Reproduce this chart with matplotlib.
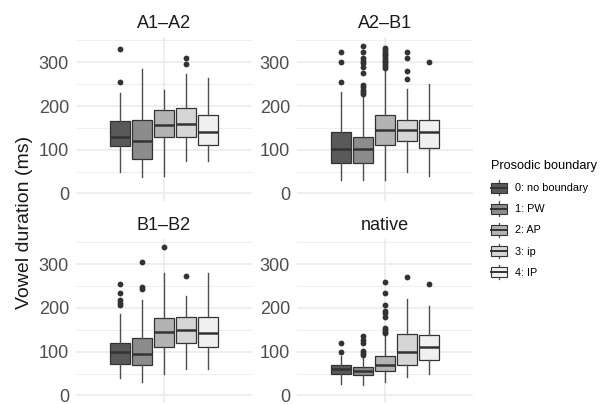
import matplotlib
matplotlib.use("Agg")
import matplotlib.pyplot as plt
from matplotlib.legend_handler import HandlerBase
from matplotlib.patches import Rectangle, Patch
from matplotlib.lines import Line2D

plt.rcParams['font.family'] = ['Liberation Sans', 'DejaVu Sans']

# data (ms)
facets = ["A1\u2013A2", "A2\u2013B1", "B1\u2013B2", "native"]
boundaries = ["0: no boundary", "1: PW", "2: AP", "3: ip", "4: IP"]

q1 = [[108, 78, 130, 129, 110],
      [70, 70, 110, 121, 105],
      [71, 69, 110, 120, 110],
      [50, 46, 56, 70, 80]]
median = [[130, 121, 157, 159, 140],
          [101, 101, 145, 145, 140],
          [100, 94, 146, 149, 142],
          [60, 55, 70, 100, 110]]
q3 = [[166, 168, 190, 195, 179],
      [140, 130, 179, 169, 169],
      [120, 132, 178, 180, 180],
      [69, 64, 91, 140, 137]]
whislo = [[50, 37, 40, 74, 74],
          [31, 31, 31, 50, 40],
          [40, 30, 50, 60, 60],
          [27, 24, 30, 43, 50]]
whishi = [[229, 284, 237, 274, 263],
          [232, 221, 282, 239, 250],
          [187, 219, 280, 228, 280],
          [91, 89, 135, 220, 205]]
fliers = [
    [[330, 256], [], [], [311, 297], []],
    [[324, 300, 256],
     [337, 324, 311, 304, 298, 289, 276, 248, 243, 237, 232, 227],
     [332, 328, 324, 320, 316, 312, 308, 304, 300, 296, 292, 288],
     [324, 311, 280, 261],
     [300]],
    [[255, 235, 219, 212, 206], [305, 249, 243], [340], [272], []],
    [[120, 99], [135, 127, 120, 101, 97, 93],
     [260, 234, 207, 194, 188, 179, 154, 150, 146, 142], [270], [255]],
]

fills = ["#595959", "#8c8c8c", "#b3b3b3", "#d6d6d6", "#f0f0f0"]
edge = "#333333"
whisk_col = "#4d4d4d"
W, H = 602, 404


class BoxKey(HandlerBase):
    def create_artists(self, legend, orig_handle, xdescent, ydescent,
                       width, height, fontsize, trans):
        x0, y0 = -xdescent, -ydescent
        cx = x0 + width / 2
        whisk = Line2D([cx, cx], [y0, y0 + height], color=whisk_col, lw=0.9, transform=trans)
        box = Rectangle((x0, y0 + height * 0.15), width, height * 0.7,
                        facecolor=orig_handle.get_facecolor(), edgecolor=edge,
                        lw=0.8, transform=trans)
        med = Line2D([x0, x0 + width], [y0 + height / 2] * 2, color=edge, lw=1.4, transform=trans)
        return [whisk, box, med]


fig = plt.figure(figsize=(W / 100, H / 100), dpi=100)

lefts = [76, 297]
tops = [37.4, 239.3]
pw, ph = 176, 163.5
offsets = [-0.3, -0.15, 0, 0.15, 0.3]

for i, name in enumerate(facets):
    r, c = divmod(i, 2)
    ax = fig.add_axes([lefts[c] / W, 1 - (tops[r] + ph) / H, pw / W, ph / H])
    stats = []
    for j in range(5):
        stats.append(dict(med=median[i][j], q1=q1[i][j], q3=q3[i][j],
                          whislo=whislo[i][j], whishi=whishi[i][j],
                          fliers=fliers[i][j]))
    bp = ax.bxp(stats, positions=[1 + o for o in offsets], widths=0.135,
                patch_artist=True, showcaps=False,
                boxprops=dict(edgecolor=edge, linewidth=0.9),
                medianprops=dict(color=edge, linewidth=1.8),
                whiskerprops=dict(color=whisk_col, linewidth=1.0),
                flierprops=dict(marker='o', markerfacecolor=edge,
                                markeredgecolor='none', markersize=4.2))
    for patch, fc in zip(bp['boxes'], fills):
        patch.set_facecolor(fc)

    ax.set_xlim(0.4, 1.6)
    ax.set_ylim(-17, 357)
    ax.set_xticks([1])
    ax.set_xticklabels([])
    ax.set_yticks([0, 100, 200, 300])
    ax.set_yticks([50, 150, 250, 350], minor=True)
    ax.tick_params(which='both', length=0)
    ax.tick_params(axis='y', labelsize=13, labelcolor='#4d4d4d', pad=5)
    ax.grid(which='major', color='#ebebeb', lw=1.2)
    ax.grid(which='minor', axis='y', color='#ebebeb', lw=0.6)
    ax.set_axisbelow(True)
    for s in ax.spines.values():
        s.set_visible(False)
    ax.annotate(name, xy=(0.5, 1), xycoords='axes fraction',
                xytext=(0, 9.7), textcoords='offset points',
                ha='center', va='center', fontsize=13, color='#1a1a1a')

fig.text(25 / W, 1 - 222.5 / H, "Vowel duration (ms)", rotation=90,
         ha='center', va='center', fontsize=14, color='#1a1a1a')

handles = [Patch(facecolor=f, edgecolor=edge) for f in fills]
leg = fig.legend(handles, boundaries, handler_map={Patch: BoxKey()},
                 loc='upper left', bbox_to_anchor=(491 / W, 1 - 160 / H),
                 frameon=False, title="Prosodic boundary", fontsize=7.8,
                 title_fontsize=9.2, alignment='left', borderpad=0,
                 borderaxespad=0, handlelength=1.5, handleheight=1.7,
                 labelspacing=0.6, handletextpad=0.75)
leg._legend_box.sep = 6

fig.savefig("out.png", dpi=100)
